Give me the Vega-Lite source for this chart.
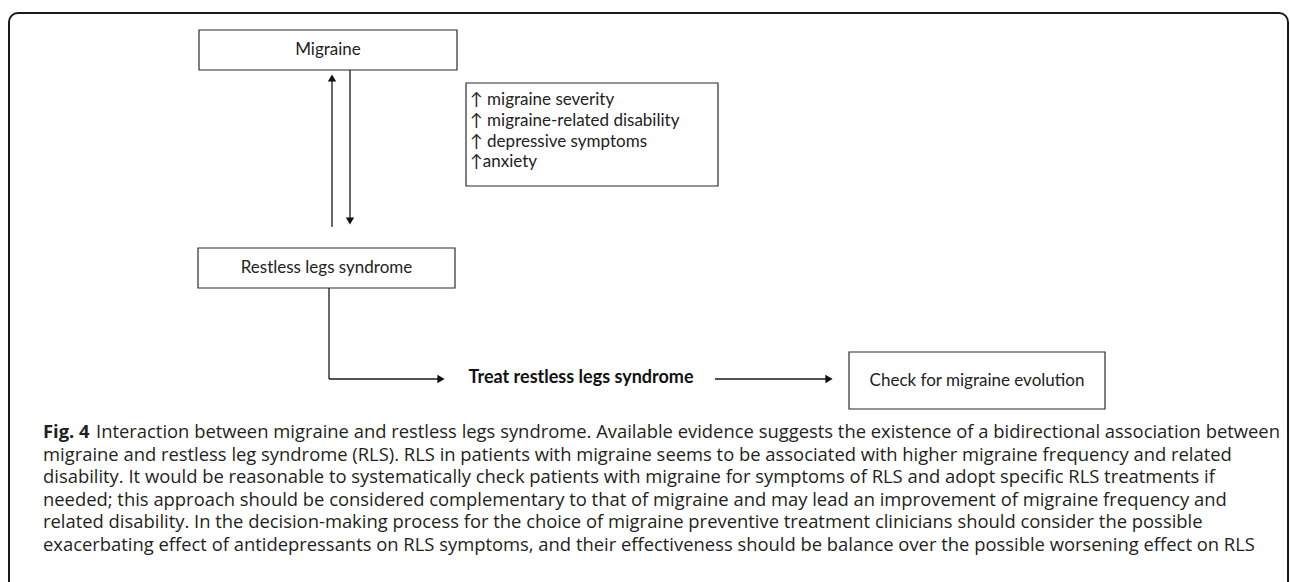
{
  "$schema": "https://vega.github.io/schema/vega-lite/v6.json",
  "width": 1290,
  "height": 582,
  "autosize": {"type": "fit", "contains": "padding"},
  "padding": 0,
  "background": "white",
  "config": {"view": {"stroke": null}},
  "datasets": {
    "frame": [{"x": 9, "x2": 1288, "y": 13, "y2": 640}],
    "boxes": [
      {"name": "Migraine", "x": 199, "x2": 457, "y": 30, "y2": 70},
      {"name": "RLS", "x": 198, "x2": 455, "y": 248, "y2": 288},
      {"name": "Effects", "x": 466, "x2": 718, "y": 83, "y2": 186},
      {"name": "Check", "x": 849, "x2": 1105, "y": 352, "y2": 409}
    ],
    "segments": [
      {"x": 332, "y": 227, "x2": 332, "y2": 80},
      {"x": 350, "y": 70, "x2": 350, "y2": 219},
      {"x": 329, "y": 288, "x2": 329, "y2": 379},
      {"x": 329, "y": 379, "x2": 438, "y2": 379},
      {"x": 715, "y": 379, "x2": 826, "y2": 379}
    ],
    "heads": [
      {"x": 332, "y": 78, "dir": "up"},
      {"x": 350, "y": 221, "dir": "down"},
      {"x": 441, "y": 379, "dir": "right"},
      {"x": 829, "y": 379, "dir": "right"}
    ],
    "boxLabels": [
      {"label": "Migraine", "x": 328, "y": 50},
      {"label": "Restless legs syndrome", "x": 326.5, "y": 268},
      {"label": "Check for migraine evolution", "x": 977, "y": 380.5}
    ],
    "effects": [
      {"label": "↑ migraine severity", "x": 470, "y": 100},
      {"label": "↑ migraine-related disability", "x": 470, "y": 121},
      {"label": "↑ depressive symptoms", "x": 470, "y": 142},
      {"label": "↑anxiety", "x": 470, "y": 162}
    ],
    "treat": [{"label": "Treat restless legs syndrome", "x": 581, "y": 378}],
    "figLabel": [{"label": "Fig. 4", "x": 43, "y": 438}],
    "caption": [
      {"label": "Interaction between migraine and restless legs syndrome. Available evidence suggests the existence of a bidirectional association between", "x": 96, "y": 438},
      {"label": "migraine and restless leg syndrome (RLS). RLS in patients with migraine seems to be associated with higher migraine frequency and related", "x": 43, "y": 460.6},
      {"label": "disability. It would be reasonable to systematically check patients with migraine for symptoms of RLS and adopt specific RLS treatments if", "x": 43, "y": 483.2},
      {"label": "needed; this approach should be considered complementary to that of migraine and may lead an improvement of migraine frequency and", "x": 43, "y": 505.8},
      {"label": "related disability. In the decision-making process for the choice of migraine preventive treatment clinicians should consider the possible", "x": 43, "y": 528.4},
      {"label": "exacerbating effect of antidepressants on RLS symptoms, and their effectiveness should be balance over the possible worsening effect on RLS", "x": 43, "y": 551}
    ]
  },
  "encoding": {
    "x": {"field": "x", "type": "quantitative", "scale": {"domain": [0, 1290], "nice": false, "zero": false}, "axis": null},
    "y": {"field": "y", "type": "quantitative", "scale": {"domain": [0, 582], "nice": false, "zero": false, "reverse": true}, "axis": null}
  },
  "layer": [
    {
      "data": {"name": "frame"},
      "mark": {"type": "rect", "fill": null, "stroke": "#1a1a1a", "strokeWidth": 2, "cornerRadius": 9, "clip": true},
      "encoding": {"x2": {"field": "x2"}, "y2": {"field": "y2"}}
    },
    {
      "data": {"name": "boxes"},
      "mark": {"type": "rect", "fill": "white", "stroke": "#2b2b2b", "strokeWidth": 1.2},
      "encoding": {"x2": {"field": "x2"}, "y2": {"field": "y2"}}
    },
    {
      "data": {"name": "segments"},
      "mark": {"type": "rule", "stroke": "#1a1a1a", "strokeWidth": 1.3},
      "encoding": {"x2": {"field": "x2"}, "y2": {"field": "y2"}}
    },
    {
      "data": {"name": "heads"},
      "mark": {"type": "point", "filled": true, "color": "#111111", "size": 70, "opacity": 1},
      "encoding": {
        "shape": {"field": "dir", "type": "nominal", "scale": {"domain": ["up", "down", "right"], "range": ["triangle-up", "triangle-down", "triangle-right"]}, "legend": null}
      }
    },
    {
      "data": {"name": "boxLabels"},
      "mark": {"type": "text", "font": "Lato", "fontSize": 17, "color": "#222222", "align": "center", "baseline": "middle"},
      "encoding": {"text": {"field": "label"}}
    },
    {
      "data": {"name": "effects"},
      "mark": {"type": "text", "font": "Lato", "fontSize": 17, "color": "#222222", "align": "left", "baseline": "middle"},
      "encoding": {"text": {"field": "label"}}
    },
    {
      "data": {"name": "treat"},
      "mark": {"type": "text", "font": "Lato", "fontSize": 18, "fontWeight": "bold", "color": "#111111", "align": "center", "baseline": "middle"},
      "encoding": {"text": {"field": "label"}}
    },
    {
      "data": {"name": "figLabel"},
      "mark": {"type": "text", "font": "Open Sans", "fontSize": 18.4, "fontWeight": "bold", "color": "#231f20", "align": "left", "baseline": "alphabetic"},
      "encoding": {"text": {"field": "label"}}
    },
    {
      "data": {"name": "caption"},
      "mark": {"type": "text", "font": "Open Sans", "fontSize": 18.4, "color": "#231f20", "align": "left", "baseline": "alphabetic"},
      "encoding": {"text": {"field": "label"}}
    }
  ]
}
